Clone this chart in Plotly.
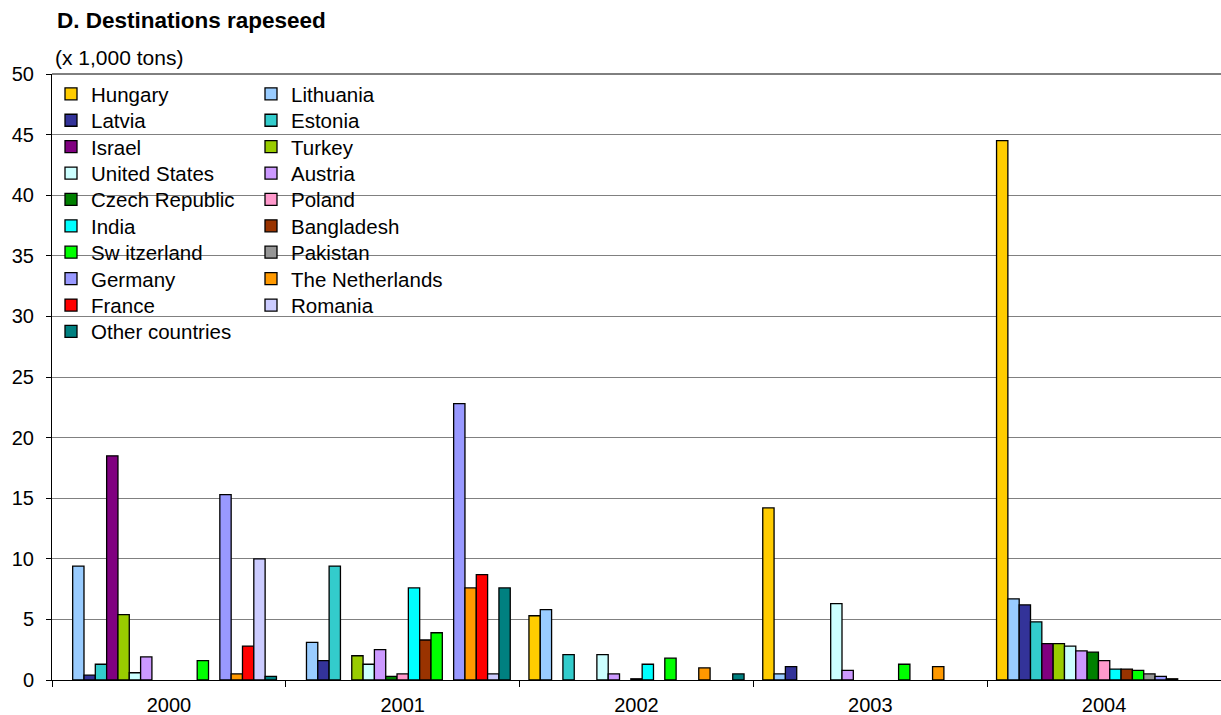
import plotly.graph_objects as go

years = ["2000", "2001", "2002", "2003", "2004"]

countries = ["Hungary", "Lithuania", "Latvia", "Estonia", "Israel", "Turkey",
             "United States", "Austria", "Czech Republic", "Poland", "India",
             "Bangladesh", "Sw itzerland", "Pakistan", "Germany", "The Netherlands",
             "France", "Romania", "Other countries"]

hungary = [0, 0, 5.3, 14.2, 44.5]
lithuania = [9.4, 3.1, 5.8, 0.5, 6.7]
latvia = [0.4, 1.6, 0, 1.1, 6.2]
estonia = [1.3, 9.4, 2.1, 0, 4.8]
israel = [18.5, 0, 0, 0, 3.0]
turkey = [5.4, 2.0, 0, 0, 3.0]
united_states = [0.6, 1.3, 2.1, 6.3, 2.8]
austria = [1.9, 2.5, 0.5, 0.8, 2.4]
czech_republic = [0, 0.3, 0, 0, 2.3]
poland = [0, 0.5, 0.1, 0, 1.6]
india = [0, 7.6, 1.3, 0, 0.9]
bangladesh = [0, 3.3, 0, 0, 0.9]
switzerland = [1.6, 3.9, 1.8, 1.3, 0.8]
pakistan = [0, 0, 0, 0, 0.5]
germany = [15.3, 22.8, 0, 0, 0.3]
netherlands = [0.5, 7.6, 1.0, 1.1, 0.1]
france = [2.8, 8.7, 0, 0, 0]
romania = [10.0, 0.5, 0, 0, 0]
other_countries = [0.3, 7.6, 0.5, 0, 0]

series = [hungary, lithuania, latvia, estonia, israel, turkey, united_states,
          austria, czech_republic, poland, india, bangladesh, switzerland,
          pakistan, germany, netherlands, france, romania, other_countries]

colors = ["#FFCC00", "#99CCFF", "#333399", "#33CCCC", "#800080", "#99CC00",
          "#CCFFFF", "#CC99FF", "#008000", "#FF99CC", "#00FFFF", "#993300",
          "#00FF00", "#969696", "#9999FF", "#FF9900", "#FF0000", "#CCCCFF",
          "#008080"]

FONT = "Arial, Liberation Sans, sans-serif"

W, H = 1221, 715
L, R, T, B = 52, 0, 74, 35
pw = W - L - R
ph = H - T - B


def px_x(px):
    return (px - L) / pw


def px_y(py):
    return (H - B - py) / ph


legend_font = dict(family=FONT, size=20.5, color="black")
ROW0, ROWSTEP = 94, 26.4
COLX = [51, 251]

fig = go.Figure()
legends = {}
for i, (name, vals, col) in enumerate(zip(countries, series, colors)):
    key = "legend" if i == 0 else f"legend{i + 1}"
    fig.add_trace(go.Bar(
        x=years,
        y=[v if v != 0 else None for v in vals],
        name=name,
        showlegend=True,
        marker=dict(color=col, line=dict(color="black", width=1.3)),
        legend=key,
    ))
    row, c = divmod(i, 2)
    legends[key] = dict(x=px_x(COLX[c]), y=px_y(ROW0 + ROWSTEP * row),
                        xanchor="left", yanchor="middle",
                        bgcolor="rgba(0,0,0,0)", font=legend_font,
                        borderwidth=0)

fig.update_layout(
    width=W, height=H,
    margin=dict(l=L, r=R, t=T, b=B),
    paper_bgcolor="white",
    plot_bgcolor="white",
    showlegend=True,
    barmode="group",
    bargap=0.08,
    bargroupgap=0,
    font=dict(family=FONT, size=20, color="black"),
    title=dict(text="<b>D. Destinations rapeseed</b>", x=57 / W, xanchor="left",
               y=1 - 20 / H, yanchor="middle",
               font=dict(family=FONT, size=22.5, color="black")),
    xaxis=dict(type="category", tickson="boundaries", ticks="outside", ticklen=6,
               tickcolor="black", showline=True, linecolor="black", linewidth=1,
               showgrid=False, tickfont=dict(size=20), ticklabelstandoff=7),
    yaxis=dict(range=[0, 50], dtick=5, ticks="outside", ticklen=5, tickcolor="black",
               showline=True, linecolor="black", linewidth=1,
               showgrid=True, gridcolor="#808080", gridwidth=1,
               ticklabelstandoff=8, tickfont=dict(size=20), zeroline=False),
    shapes=[
        dict(type="rect", xref="paper", yref="paper", x0=0, x1=px_x(458),
             y0=px_y(345), y1=1, fillcolor="white", line=dict(width=0),
             layer="between"),
        dict(type="line", xref="paper", yref="paper", x0=0, x1=1, y0=1, y1=1,
             line=dict(color="black", width=1), layer="above"),
    ],
    annotations=[
        dict(text="(x 1,000 tons)", xref="paper", yref="paper", x=px_x(53),
             y=px_y(57), xanchor="left", yanchor="middle", showarrow=False,
             font=dict(family=FONT, size=21, color="black")),
    ],
    **legends,
)

fig.write_html("out.html")
